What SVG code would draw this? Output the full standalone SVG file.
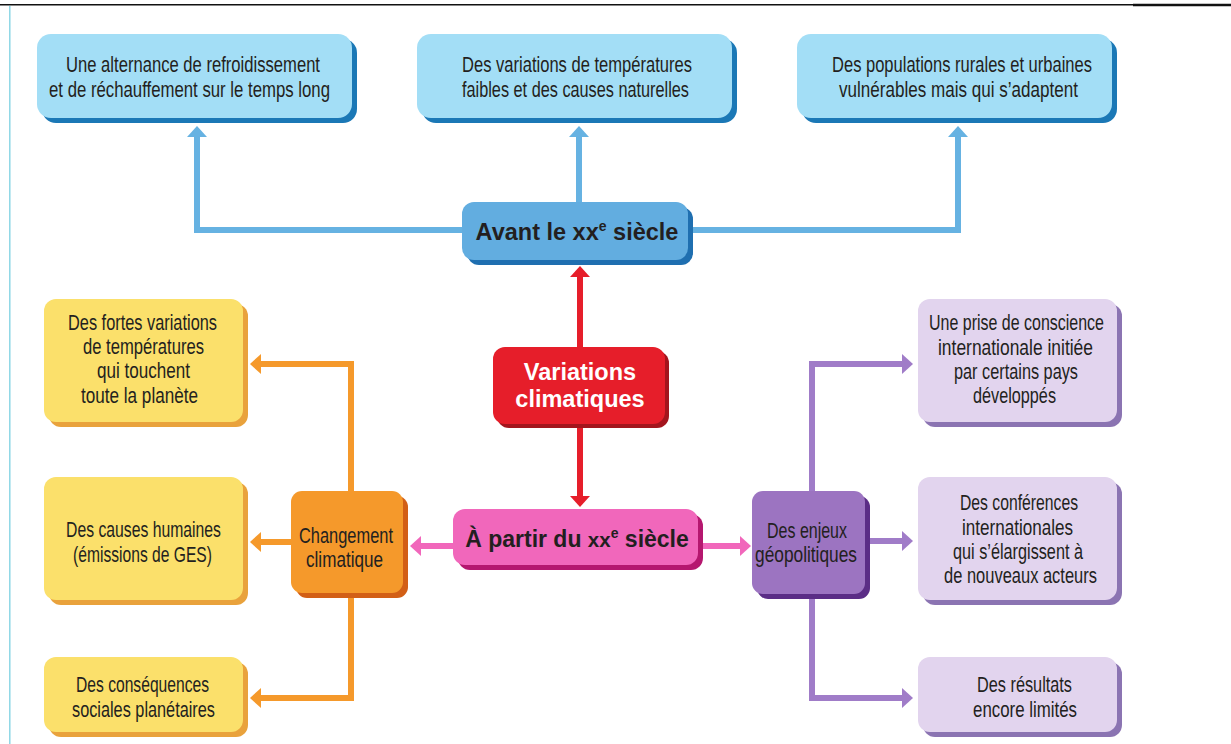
<svg xmlns="http://www.w3.org/2000/svg" width="1231" height="744" viewBox="0 0 1231 744">
  <style>
    .t { font-family: "Liberation Sans", Arial, sans-serif; font-size: 22.5px; fill: #231f20; }
    .h { font-family: "Liberation Sans", Arial, sans-serif; font-weight: bold; fill: #231f20; }
    .w { fill: #ffffff; }
    .ln { fill: none; stroke-width: 6; stroke-linejoin: miter; }
    .blue { stroke: #66b2e2; }
    .red { stroke: #e61e2a; }
    .orange { stroke: #f5992b; }
    .pink { stroke: #f167bb; }
    .purple { stroke: #a07cc8; }
  </style>
  <defs>
    <marker id="aBlue" markerUnits="userSpaceOnUse" markerWidth="12" markerHeight="20" refX="0" refY="10" orient="auto" overflow="visible">
      <path d="M0,0 L11,10 L0,20 z" fill="#66b2e2"/>
    </marker>
    <marker id="aRed" markerUnits="userSpaceOnUse" markerWidth="12" markerHeight="20" refX="0" refY="10" orient="auto" overflow="visible">
      <path d="M0,0 L11,10 L0,20 z" fill="#e61e2a"/>
    </marker>
    <marker id="aOrange" markerUnits="userSpaceOnUse" markerWidth="12" markerHeight="20" refX="0" refY="10" orient="auto" overflow="visible">
      <path d="M0,0 L11,10 L0,20 z" fill="#f5992b"/>
    </marker>
    <marker id="aPink" markerUnits="userSpaceOnUse" markerWidth="12" markerHeight="20" refX="0" refY="10" orient="auto" overflow="visible">
      <path d="M0,0 L11,10 L0,20 z" fill="#f167bb"/>
    </marker>
    <marker id="aPurple" markerUnits="userSpaceOnUse" markerWidth="12" markerHeight="20" refX="0" refY="10" orient="auto" overflow="visible">
      <path d="M0,0 L11,10 L0,20 z" fill="#a07cc8"/>
    </marker>
  </defs>

  <rect x="0" y="0" width="1231" height="744" fill="#ffffff"/>

  <!-- page frame -->
  <g id="frame">
    <line x1="0" y1="4.8" x2="1133" y2="4.8" stroke="#111" stroke-width="1.6"/>
    <line x1="1133" y1="5" x2="1231" y2="5" stroke="#111" stroke-width="2.4"/>
    <line x1="9.8" y1="6" x2="9.8" y2="744" stroke="#86d4e4" stroke-width="1.4"/>
  </g>

  <!-- connectors -->
  <g id="connectors">
    <path class="ln blue" d="M470,230 H197 V137" marker-end="url(#aBlue)"/>
    <path class="ln blue" d="M579,210 V137" marker-end="url(#aBlue)"/>
    <path class="ln blue" d="M680,230 H958 V137" marker-end="url(#aBlue)"/>

    <path class="ln red" d="M580,355 V277" marker-end="url(#aRed)"/>
    <path class="ln red" d="M580,420 V496" marker-end="url(#aRed)"/>

    <path class="ln orange" d="M351,500 V364 H261" marker-end="url(#aOrange)"/>
    <path class="ln orange" d="M300,542 H261" marker-end="url(#aOrange)"/>
    <path class="ln orange" d="M351,590 V698 H261" marker-end="url(#aOrange)"/>

    <path class="ln pink" d="M460,546 H421" marker-end="url(#aPink)"/>
    <path class="ln pink" d="M695,546 H740" marker-end="url(#aPink)"/>

    <path class="ln purple" d="M812,500 V364 H902" marker-end="url(#aPurple)"/>
    <path class="ln purple" d="M860,541 H902" marker-end="url(#aPurple)"/>
    <path class="ln purple" d="M812,590 V698 H902" marker-end="url(#aPurple)"/>
  </g>

  <!-- top row -->
  <g id="avant-1">
    <rect x="42" y="39" width="315" height="84" rx="14" fill="#1b78b6"/>
    <rect x="37" y="34" width="315" height="84" rx="14" fill="#a3def6"/>
    <text class="t" x="66" y="72" textLength="254" lengthAdjust="spacingAndGlyphs">Une alternance de refroidissement</text>
    <text class="t" x="49" y="97" textLength="281" lengthAdjust="spacingAndGlyphs">et de réchauffement sur le temps long</text>
  </g>
  <g id="avant-2">
    <rect x="422" y="39" width="315" height="84" rx="14" fill="#1b78b6"/>
    <rect x="417" y="34" width="315" height="84" rx="14" fill="#a3def6"/>
    <text class="t" x="462" y="72" textLength="230" lengthAdjust="spacingAndGlyphs">Des variations de températures</text>
    <text class="t" x="462" y="97" textLength="227" lengthAdjust="spacingAndGlyphs">faibles et des causes naturelles</text>
  </g>
  <g id="avant-3">
    <rect x="802" y="39" width="315" height="84" rx="14" fill="#1b78b6"/>
    <rect x="797" y="34" width="315" height="84" rx="14" fill="#a3def6"/>
    <text class="t" x="832" y="72" textLength="260" lengthAdjust="spacingAndGlyphs">Des populations rurales et urbaines</text>
    <text class="t" x="839" y="97" textLength="239" lengthAdjust="spacingAndGlyphs">vulnérables mais qui s’adaptent</text>
  </g>

  <!-- central column -->
  <g id="avant">
    <rect x="467" y="207" width="226" height="58" rx="12" fill="#1f6fb0"/>
    <rect x="462" y="202" width="226" height="58" rx="12" fill="#62ade0"/>
    <text class="h" x="577" y="240" text-anchor="middle" font-size="23.5">Avant le xx<tspan font-size="14" dy="-9">e</tspan><tspan dy="9"> siècle</tspan></text>
  </g>
  <g id="variations">
    <rect x="497" y="351" width="172" height="77" rx="12" fill="#a3151d"/>
    <rect x="493" y="347" width="172" height="77" rx="12" fill="#e61e2a"/>
    <text class="h w" x="580" y="380" text-anchor="middle" font-size="23.5">Variations</text>
    <text class="h w" x="580" y="407" text-anchor="middle" font-size="23.5">climatiques</text>
  </g>
  <g id="apartir">
    <rect x="458" y="514" width="245" height="56" rx="12" fill="#b5176f"/>
    <rect x="453" y="509" width="245" height="56" rx="12" fill="#f167bb"/>
    <text class="h" x="577" y="547" text-anchor="middle" font-size="23">À partir du <tspan font-size="20.5">xx</tspan><tspan font-size="14" dy="-9">e</tspan><tspan dy="9"> siècle</tspan></text>
  </g>

  <!-- left branch -->
  <g id="changement">
    <rect x="296" y="496" width="112" height="102" rx="11" fill="#d25f16"/>
    <rect x="291" y="491" width="112" height="102" rx="11" fill="#f5992b"/>
    <text class="t" x="299" y="543" textLength="94" lengthAdjust="spacingAndGlyphs">Changement</text>
    <text class="t" x="306" y="567" textLength="77" lengthAdjust="spacingAndGlyphs">climatique</text>
  </g>
  <g id="fortes">
    <rect x="49" y="304" width="199" height="123" rx="12" fill="#e9a23c"/>
    <rect x="44" y="299" width="199" height="123" rx="12" fill="#fbe06b"/>
    <text class="t" x="68" y="330" textLength="149" lengthAdjust="spacingAndGlyphs">Des fortes variations</text>
    <text class="t" x="83" y="354" textLength="121" lengthAdjust="spacingAndGlyphs">de températures</text>
    <text class="t" x="97" y="378" textLength="93" lengthAdjust="spacingAndGlyphs">qui touchent</text>
    <text class="t" x="81" y="403" textLength="117" lengthAdjust="spacingAndGlyphs">toute la planète</text>
  </g>
  <g id="causes">
    <rect x="49" y="482" width="199" height="123" rx="12" fill="#e9a23c"/>
    <rect x="44" y="477" width="199" height="123" rx="12" fill="#fbe06b"/>
    <text class="t" x="66" y="537" textLength="155" lengthAdjust="spacingAndGlyphs">Des causes humaines</text>
    <text class="t" x="73" y="562" textLength="139" lengthAdjust="spacingAndGlyphs">(émissions de GES)</text>
  </g>
  <g id="consequences">
    <rect x="49" y="662" width="199" height="75" rx="12" fill="#e9a23c"/>
    <rect x="44" y="657" width="199" height="75" rx="12" fill="#fbe06b"/>
    <text class="t" x="76" y="692" textLength="133" lengthAdjust="spacingAndGlyphs">Des conséquences</text>
    <text class="t" x="72" y="717" textLength="143" lengthAdjust="spacingAndGlyphs">sociales planétaires</text>
  </g>

  <!-- right branch -->
  <g id="enjeux">
    <rect x="757" y="496" width="113" height="103" rx="11" fill="#5b2d86"/>
    <rect x="752" y="491" width="113" height="103" rx="11" fill="#9c74c1"/>
    <text class="t" x="767" y="538" textLength="80" lengthAdjust="spacingAndGlyphs">Des enjeux</text>
    <text class="t" x="755" y="562" textLength="102" lengthAdjust="spacingAndGlyphs">géopolitiques</text>
  </g>
  <g id="prise">
    <rect x="923" y="304" width="199" height="123" rx="12" fill="#8b74b2"/>
    <rect x="918" y="299" width="199" height="123" rx="12" fill="#e2d4ee"/>
    <text class="t" x="929" y="330" textLength="175" lengthAdjust="spacingAndGlyphs">Une prise de conscience</text>
    <text class="t" x="938" y="355" textLength="155" lengthAdjust="spacingAndGlyphs">internationale initiée</text>
    <text class="t" x="954" y="379" textLength="124" lengthAdjust="spacingAndGlyphs">par certains pays</text>
    <text class="t" x="973" y="403" textLength="83" lengthAdjust="spacingAndGlyphs">développés</text>
  </g>
  <g id="conferences">
    <rect x="923" y="482" width="199" height="123" rx="12" fill="#8b74b2"/>
    <rect x="918" y="477" width="199" height="123" rx="12" fill="#e2d4ee"/>
    <text class="t" x="960" y="510" textLength="118" lengthAdjust="spacingAndGlyphs">Des conférences</text>
    <text class="t" x="962" y="535" textLength="111" lengthAdjust="spacingAndGlyphs">internationales</text>
    <text class="t" x="953" y="559" textLength="130" lengthAdjust="spacingAndGlyphs">qui s’élargissent à</text>
    <text class="t" x="944" y="583" textLength="153" lengthAdjust="spacingAndGlyphs">de nouveaux acteurs</text>
  </g>
  <g id="resultats">
    <rect x="923" y="662" width="199" height="75" rx="12" fill="#8b74b2"/>
    <rect x="918" y="657" width="199" height="75" rx="12" fill="#e2d4ee"/>
    <text class="t" x="977" y="692" textLength="95" lengthAdjust="spacingAndGlyphs">Des résultats</text>
    <text class="t" x="973" y="717" textLength="104" lengthAdjust="spacingAndGlyphs">encore limités</text>
  </g>
</svg>
